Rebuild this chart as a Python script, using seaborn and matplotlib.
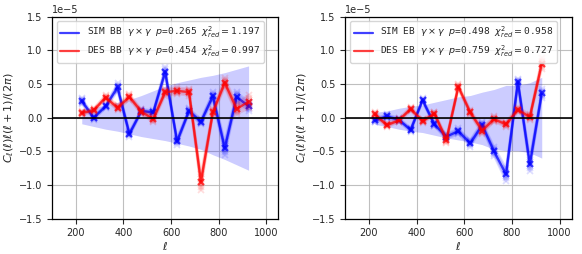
import numpy as np
import pandas as pd
import matplotlib
matplotlib.use("Agg")
import matplotlib.pyplot as plt
import seaborn as sns
from matplotlib.lines import Line2D

sns.set_style("ticks")
plt.rcParams['font.family'] = ['DejaVu Sans']

ell = [225, 275, 325, 375, 425, 475, 525, 575, 625, 675, 725, 775, 825, 875, 925]

# BB panel (units of 1e-5)
sim_bb = [0.25, 0.0, 0.17, 0.45, -0.24, 0.10, 0.08, 0.68, -0.35, 0.10, -0.06, 0.32, -0.45, 0.31, 0.17]
sim_bb_spread = [0.04, 0.03, 0.03, 0.06, 0.04, 0.03, 0.03, 0.07, 0.05, 0.04, 0.04, 0.06, 0.10, 0.07, 0.07]
des_bb = [0.07, 0.11, 0.30, 0.15, 0.31, 0.09, -0.02, 0.38, 0.40, 0.38, -0.95, 0.08, 0.52, 0.13, 0.24]
des_bb_spread = [0.03, 0.03, 0.04, 0.04, 0.04, 0.04, 0.05, 0.05, 0.05, 0.05, 0.12, 0.05, 0.07, 0.08, 0.10]
band_bb_hi = [0.13, 0.15, 0.19, 0.23, 0.27, 0.33, 0.40, 0.47, 0.52, 0.56, 0.60, 0.63, 0.67, 0.72, 0.77]
band_bb_lo = [-0.09, -0.13, -0.17, -0.20, -0.24, -0.28, -0.31, -0.34, -0.38, -0.42, -0.47, -0.55, -0.62, -0.70, -0.78]

# EB panel (units of 1e-5)
sim_eb = [-0.04, 0.02, -0.03, -0.18, 0.26, -0.10, -0.28, -0.20, -0.38, -0.11, -0.50, -0.84, 0.53, -0.69, 0.36]
sim_eb_spread = [0.03, 0.03, 0.03, 0.03, 0.03, 0.03, 0.04, 0.04, 0.05, 0.05, 0.07, 0.10, 0.05, 0.10, 0.06]
des_eb = [0.05, -0.11, -0.04, 0.13, -0.05, 0.06, -0.33, 0.46, 0.08, -0.19, -0.02, -0.10, 0.12, 0.01, 0.80]
des_eb_spread = [0.03, 0.03, 0.03, 0.03, 0.03, 0.03, 0.05, 0.04, 0.04, 0.05, 0.04, 0.04, 0.04, 0.04, 0.08]
band_eb_hi = [0.08, 0.10, 0.14, 0.17, 0.19, 0.23, 0.27, 0.31, 0.33, 0.38, 0.42, 0.48, 0.48, 0.52, 0.60]
band_eb_lo = [-0.10, -0.13, -0.17, -0.20, -0.22, -0.26, -0.30, -0.33, -0.36, -0.40, -0.47, -0.49, -0.49, -0.52, -0.60]

labels_bb = [r"SIM BB $\gamma\times\gamma$ $p$=0.265 $\chi^2_{red}=$1.197",
             r"DES BB $\gamma\times\gamma$ $p$=0.454 $\chi^2_{red}=$0.997"]
labels_eb = [r"SIM EB $\gamma\times\gamma$ $p$=0.498 $\chi^2_{red}=$0.958",
             r"DES EB $\gamma\times\gamma$ $p$=0.759 $\chi^2_{red}=$0.727"]

SCALE = 1e-5
offsets = [-1.0, -0.6, -0.3, 0.3, 0.6, 1.0]


def draw_series(ax, vals, spread, color):
    rows = []
    for k, f in enumerate(offsets):
        for l, v, s in zip(ell, vals, spread):
            rows.append({"ell": l, "val": (v + f * s) * SCALE, "real": k})
    df = pd.DataFrame(rows)
    sns.lineplot(data=df, x="ell", y="val", units="real", estimator=None,
                 ax=ax, color=color, alpha=0.13, lw=1.6, marker="x",
                 markersize=5, markeredgewidth=1.3, markeredgecolor=color,
                 legend=False)
    dm = pd.DataFrame({"ell": ell, "val": np.array(vals) * SCALE})
    sns.lineplot(data=dm, x="ell", y="val", ax=ax, color=color, alpha=0.75,
                 lw=1.7, marker="x", markersize=5, markeredgewidth=1.6,
                 markeredgecolor=color, legend=False)


fig = plt.figure(figsize=(5.82, 2.54), dpi=100)
ax1 = fig.add_axes([0.0893, 0.139, 0.389, 0.795])
ax2 = fig.add_axes([0.593, 0.139, 0.389, 0.795])

panels = [
    (ax1, sim_bb, sim_bb_spread, des_bb, des_bb_spread, band_bb_lo, band_bb_hi, labels_bb),
    (ax2, sim_eb, sim_eb_spread, des_eb, des_eb_spread, band_eb_lo, band_eb_hi, labels_eb),
]

for ax, s, ss, d, ds, lo, hi, labs in panels:
    ax.fill_between(ell, np.array(lo) * SCALE, np.array(hi) * SCALE,
                    color=(0.0, 0.0, 1.0), alpha=0.2, lw=0)
    draw_series(ax, s, ss, (0.0, 0.0, 1.0))
    draw_series(ax, d, ds, (1.0, 0.0, 0.0))
    ax.axhline(0, color="black", lw=1.2)
    ax.set_xlim(100, 1050)
    ax.set_ylim(-1.5e-5, 1.5e-5)
    ax.set_xticks([200, 400, 600, 800, 1000])
    ax.set_yticks([-1.5e-5, -1e-5, -0.5e-5, 0, 0.5e-5, 1e-5, 1.5e-5])
    ax.grid(True, color="#b0b0b0", lw=0.8, alpha=0.8)
    ax.tick_params(labelsize=7, length=3.5, width=0.8)
    ax.yaxis.get_offset_text().set_fontsize(7)
    for sp in ax.spines.values():
        sp.set_color("black")
        sp.set_linewidth(0.9)
    ax.set_xlabel(r"$\ell$", fontsize=8, labelpad=1)
    ax.set_ylabel(r"$C_\ell(\ell)\ell(\ell+1)/(2\pi)$", fontsize=8, labelpad=2)
    handles = [Line2D([], [], color=(0, 0, 1), lw=1.6, alpha=0.75),
               Line2D([], [], color=(1, 0, 0), lw=1.6, alpha=0.75)]
    leg = ax.legend(handles, labs, loc="upper left",
                    prop={"family": "DejaVu Sans Mono", "size": 6.8},
                    handlelength=2.0, borderpad=0.4, labelspacing=0.4,
                    framealpha=0.8)

fig.savefig("out.png", dpi=100)
